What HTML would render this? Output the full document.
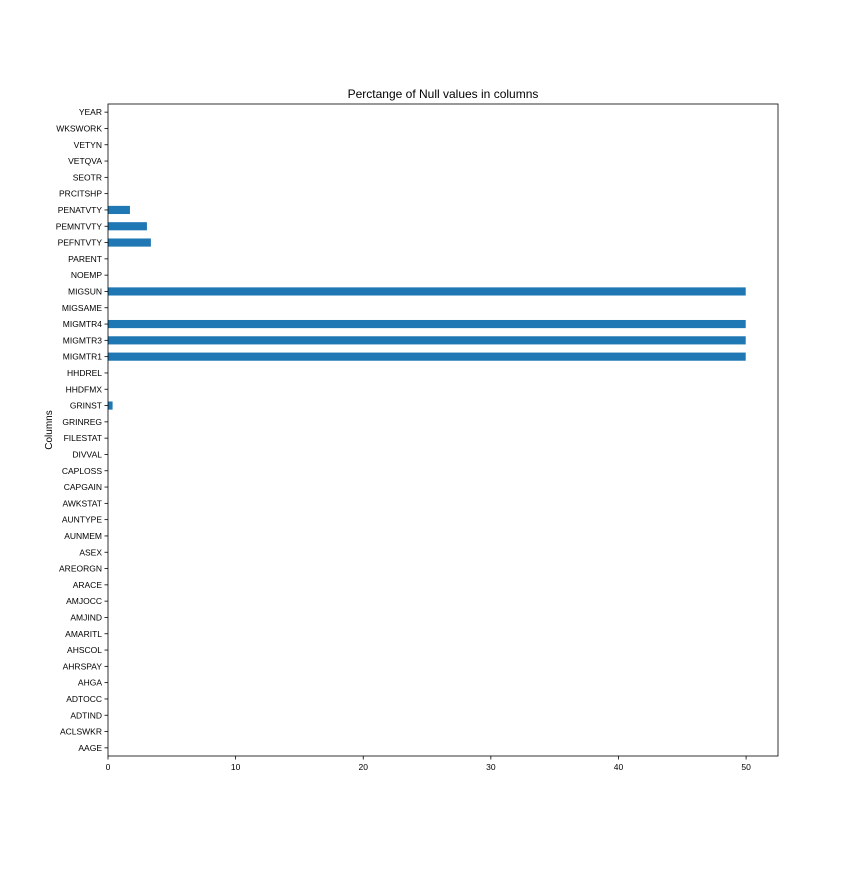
<!DOCTYPE html>
<html><head><meta charset="utf-8"><style>
html,body{margin:0;padding:0;background:#fff;}
text{font-family:"Liberation Sans","DejaVu Sans",sans-serif;}
</style></head><body>
<svg id="chart" width="864" height="864" xmlns="http://www.w3.org/2000/svg"></svg>
<script>
const categories = ["AAGE","ACLSWKR","ADTIND","ADTOCC","AHGA","AHRSPAY","AHSCOL","AMARITL","AMJIND","AMJOCC","ARACE","AREORGN","ASEX","AUNMEM","AUNTYPE","AWKSTAT","CAPGAIN","CAPLOSS","DIVVAL","FILESTAT","GRINREG","GRINST","HHDFMX","HHDREL","MIGMTR1","MIGMTR3","MIGMTR4","MIGSAME","MIGSUN","NOEMP","PARENT","PEFNTVTY","PEMNTVTY","PENATVTY","PRCITSHP","SEOTR","VETQVA","VETYN","WKSWORK","YEAR"];
const values = [0,0,0,0,0,0,0,0,0,0,0,0,0,0,0,0,0,0,0,0,0,0.36,0,0,49.97,49.97,49.97,0,49.97,0,0,3.36,3.05,1.72,0,0,0,0,0,0];
const xTicks = [0,10,20,30,40,50];
const xMax = 52.5;
const L=108,R=778,T=104,B=756;
const svg=document.getElementById('chart');
const NS='http://www.w3.org/2000/svg';
function xs(v){return L+(v/xMax)*(R-L);}
const step=(B-T)/categories.length;
function ys(i){return B-(i+0.5)*step;}
function mk(tag,attrs,txt){const e=document.createElementNS(NS,tag);for(const k in attrs)e.setAttribute(k,attrs[k]);if(txt!==undefined)e.textContent=txt;svg.appendChild(e);return e;}
categories.forEach((c,i)=>{
  const w=xs(values[i])-xs(0);
  if(w>0){const r=mk('rect',{x:xs(0),y:ys(i)-step*0.25,width:w,height:step*0.5,fill:'#1f77b4'});
  
  }
  const t=mk('line',{x1:L-3.5,x2:L,y1:ys(i),y2:ys(i),stroke:'#000','stroke-width':0.8});
  
  
  const lb=mk('text',{x:L-6,y:ys(i)+3,'text-anchor':'end','font-size':8.5},c);
  
  
});
xTicks.forEach(v=>{
  const t=mk('line',{x1:xs(v),x2:xs(v),y1:B,y2:B+3.5,stroke:'#000','stroke-width':0.8});
  
  
  const lb=mk('text',{x:xs(v),y:B+14,'text-anchor':'middle','font-size':8.5},String(v));
  
  
});
const f=mk('rect',{x:L,y:T,width:R-L,height:B-T,fill:'none',stroke:'#000','stroke-width':0.8});


const ti=mk('text',{x:(L+R)/2,y:T-6,'text-anchor':'middle','font-size':12},'Perctange of Null values in columns');


const yt=mk('text',{x:52,y:(T+B)/2,'text-anchor':'middle','font-size':10,transform:'rotate(-90 52 '+((T+B)/2)+')'},'Columns');


</script>
</body></html>
